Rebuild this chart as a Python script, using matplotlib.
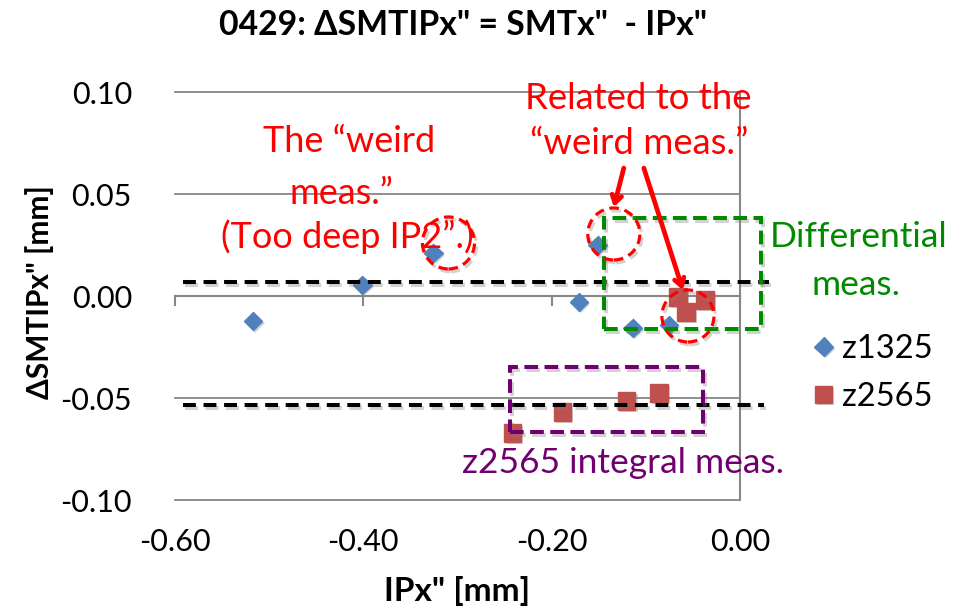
import matplotlib
matplotlib.use("Agg")
import matplotlib.pyplot as plt
from matplotlib.patches import Rectangle, Ellipse
from matplotlib.ticker import FormatStrFormatter
import matplotlib.patheffects as pe

plt.rcParams['font.family'] = ['Lato', 'DejaVu Sans']
plt.rcParams['axes.unicode_minus'] = False

# Measured points
z1325_x = [-0.517, -0.401, -0.3255, -0.151, -0.171, -0.114, -0.0755]
z1325_y = [-0.0123, 0.0054, 0.0211, 0.025, -0.0029, -0.0157, -0.0142]
z2565_x = [-0.066, -0.0372, -0.0574, -0.2415, -0.1883, -0.1202, -0.0862]
z2565_y = [-0.0005, -0.002, -0.0078, -0.0672, -0.0569, -0.0515, -0.0475]

x_ticks = [-0.60, -0.40, -0.20, 0.00]
y_ticks = [-0.10, -0.05, 0.00, 0.05, 0.10]

# Reference levels of the two groups
level_differential = 0.0069
level_integral = -0.0534

BLUE = '#4F81BD'
RED_MARK = '#C0504D'
RED = '#FF0000'
GREEN = '#008A00'
PURPLE = '#700070'
GRID = '#878787'

fig = plt.figure(figsize=(9.69, 6.12), dpi=100)
ax = fig.add_axes([175 / 969, 1 - 500 / 612, 565 / 969, 408 / 612])
ax.set_xlim(-0.6, 0.0)
ax.set_ylim(-0.1, 0.1)
for s in ax.spines.values():
    s.set_visible(False)

ax.set_xticks(x_ticks)
ax.set_yticks(y_ticks)
ax.xaxis.set_major_formatter(FormatStrFormatter('%.2f'))
ax.yaxis.set_major_formatter(FormatStrFormatter('%.2f'))
ax.tick_params(axis='both', length=0, labelsize=22, colors='black')
ax.tick_params(axis='y', pad=31)
ax.tick_params(axis='x', pad=20)

ax.yaxis.grid(True, color=GRID, linewidth=1.3)
for gl in ax.get_ygridlines():
    gl.set_clip_on(False)
ax.set_axisbelow(True)

# Axis lines crossing at zero, with outward tick marks on the horizontal one
ax.axvline(0, color=GRID, linewidth=1.5, clip_on=False, zorder=1)
ax.axhline(0, color=GRID, linewidth=1.5, clip_on=False, zorder=1)
for xt in x_ticks:
    ax.plot([xt, xt], [0, -0.0045], color=GRID, linewidth=1.5, clip_on=False, zorder=1)

shadow_pt = [pe.SimplePatchShadow(offset=(1.5, -1.5), shadow_rgbFace='gray', alpha=0.35), pe.Normal()]

h1, = ax.plot(z1325_x, z1325_y, linestyle='none', marker='D', markersize=9.5,
              color=BLUE, label='z1325', zorder=3, clip_on=False, path_effects=shadow_pt)
h2, = ax.plot(z2565_x, z2565_y, linestyle='none', marker='s', markersize=12.5,
              color=RED_MARK, label='z2565', zorder=3, clip_on=False, path_effects=shadow_pt)

leg = ax.legend(handles=[h1, h2], loc='center left', bbox_to_anchor=(809 / 969, 1 - 373 / 612),
                bbox_transform=fig.transFigure, frameon=False, fontsize=23.5,
                handlelength=0.9, handletextpad=0.1, labelspacing=0.55,
                borderpad=0, borderaxespad=0)

line_shadow = [pe.SimpleLineShadow(offset=(1.5, -2), shadow_color='gray', alpha=0.35), pe.Normal()]

# Horizontal dashed reference lines
for lvl, x_end in [(level_differential, 0.0309), (level_integral, 0.0255)]:
    ax.plot([-0.5915, x_end], [lvl, lvl], color='black', linewidth=2.9,
            linestyle=(0, (3.2, 1.9)), clip_on=False, zorder=4, path_effects=line_shadow)

# Differential measurement box
ax.add_patch(Rectangle((-0.1447, -0.0162), 0.1670, 0.0544, fill=False, edgecolor=GREEN,
                       linewidth=2.9, linestyle=(0, (3.4, 1.6)), clip_on=False, zorder=4,
                       path_effects=line_shadow))
# Integral measurement box
ax.add_patch(Rectangle((-0.2447, -0.0667), 0.2053, 0.0319, fill=False, edgecolor=PURPLE,
                       linewidth=2.9, linestyle=(0, (3.4, 1.6)), clip_on=False, zorder=4,
                       path_effects=line_shadow))

# Dashed circles around the weird measurement
for cx, cy in [(-0.3096, 0.026), (-0.134, 0.0304), (-0.0553, -0.0098)]:
    ax.add_patch(Ellipse((cx, cy), 52 / 940, 52 / 2040, fill=False, edgecolor=RED,
                         linewidth=2.3, linestyle=(0, (3.0, 1.8)), clip_on=False, zorder=5,
                         path_effects=line_shadow))

# Arrows from the label to the circled points
arrow_kw = dict(arrowstyle='->,head_length=0.55,head_width=0.35', color=RED, lw=3.4,
                shrinkA=0, shrinkB=0)
ax.annotate('', xy=(-0.134, 0.0436), xytext=(-0.1234, 0.0627), arrowprops=arrow_kw, zorder=6,
            annotation_clip=False)
ax.annotate('', xy=(-0.0606, 0.0029), xytext=(-0.1021, 0.0627), arrowprops=arrow_kw, zorder=6,
            annotation_clip=False)

# Annotation texts
txt_kw = dict(ha='center', va='center', zorder=6, clip_on=False)
ax.text(-0.415, 0.0755, 'The \u201cweird', color=RED, fontsize=26, **txt_kw)
ax.text(-0.4235, 0.0500, 'meas.\u201d', color=RED, fontsize=26, **txt_kw)
ax.text(-0.417, 0.0289, '(Too deep IP2\u201d.)', color=RED, fontsize=26, **txt_kw)

ax.text(-0.1085, 0.097, 'Related to the', color=RED, fontsize=26.3, **txt_kw)
ax.text(-0.1074, 0.0750, '\u201cweird meas.\u201d', color=RED, fontsize=26.3, **txt_kw)

ax.text(0.1255, 0.0289, 'Differential', color=GREEN, fontsize=25.5, **txt_kw)
ax.text(0.1234, 0.0054, 'meas.', color=GREEN, fontsize=25.5, **txt_kw)

ax.text(-0.1245, -0.0819, 'z2565 integral meas.', color=PURPLE, fontsize=25.5, **txt_kw)

# Titles
fig.text(463 / 969, 1 - 25 / 612, '0429: \u0394SMTIPx" = SMTx"  - IPx"', ha='center', va='center',
         fontsize=24.3, fontweight='bold')
fig.text(457 / 969, 1 - 591 / 612, 'IPx" [mm]', ha='center', va='center',
         fontsize=24, fontweight='bold')
fig.text(40 / 969, 1 - 292 / 612, '\u0394SMTIPx" [mm]', ha='center', va='center',
         rotation=90, fontsize=21.5, fontweight='bold')

fig.savefig('out.png', dpi=100)
